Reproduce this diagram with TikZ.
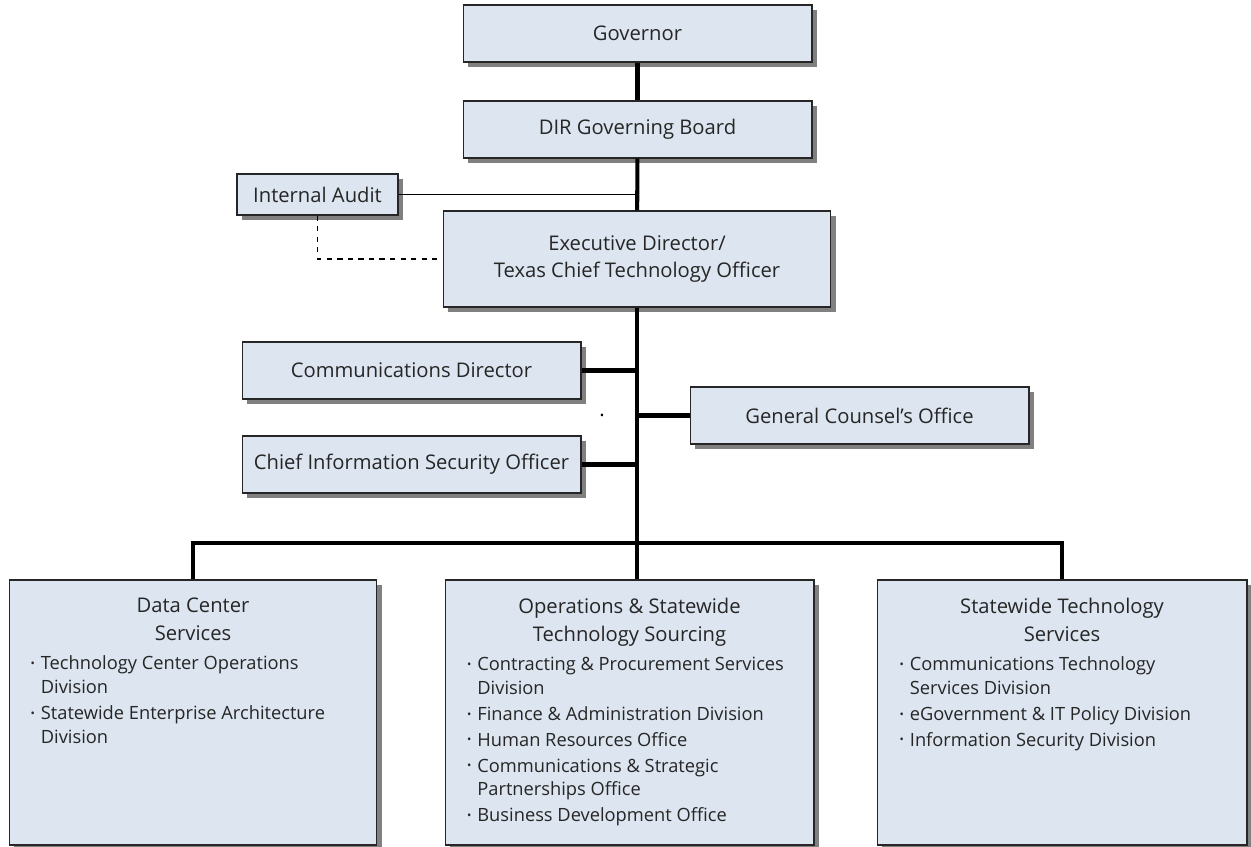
\documentclass[tikz,border=0pt]{standalone}
\usepackage{fontspec}
\setmainfont{Open Sans}
\usetikzlibrary{shadows}
\definecolor{boxblue}{HTML}{DCE5F0}
\definecolor{shadowgray}{HTML}{808080}
\newcommand{\bitem}[1]{\par\hangindent=5.9pt\hangafter=1%
  \makebox[5.9pt][l]{\raisebox{1.3pt}{\fontsize{6.5}{6.5}\selectfont\textbullet}}#1}
\newcommand{\unitlist}[2]{\parbox[c][5.0cm][t]{6.5cm}{\vspace*{6pt}%
  {\centering\fontsize{11.5}{15.9}\selectfont #1\par}\vspace{2pt}%
  \raggedright\fontsize{10.4}{13.6}\selectfont\parskip=1.1pt #2}}

\begin{document}
\begin{tikzpicture}[x=0.02cm, y=-0.02cm,
    box/.style={draw=black!85, line width=0.6pt, fill=boxblue, inner sep=0pt,
      text=black!85, font=\fontsize{11.5}{15.5}\selectfont, align=center,
      general shadow={fill=shadowgray, shadow xshift=2.8pt, shadow yshift=-2.8pt}},
    topbox/.style={box, minimum width=6.98cm, minimum height=1.14cm},
    sidebox/.style={box, minimum width=6.78cm, minimum height=1.14cm},
    unitbox/.style={box, minimum height=5.3cm},
    trunk/.style={line width=2.3pt},
    side/.style={line width=0.8pt},
    audit/.style={dashed, line width=0.7pt}]
    \useasboundingbox (0,0) rectangle (1251,847);
    % chain of command
    \node [topbox] (gov) at (637.5,33.5) {Governor};
    \node [topbox] (dir) at (637.5,129.5) {DIR Governing Board};
    \node [box, minimum width=3.22cm, minimum height=0.82cm] (ia) at (317.5,194.5) {Internal Audit};
    \node [box, minimum width=7.76cm, minimum height=1.92cm] (exec) at (637,259) {Executive Director/\\Texas Chief Technology Officer};
    % staff offices
    \node [sidebox] (comm) at (411.5,370.5) {Communications Director};
    \node [sidebox] (gc) at (859.5,415.5) {General Counsel’s Office};
    \node [sidebox] (ciso) at (411.5,464.5) {Chief Information Security Officer};
    \node [inner sep=0pt, font=\fontsize{11.5}{14}\selectfont] (speck) at (602,415) {.};
    % divisions
    \node [unitbox, minimum width=7.36cm] (dcs) at (193,712.5) {\unitlist{Data Center\\Services}{%
      \bitem{Technology Center Operations\newline Division}%
      \bitem{Statewide Enterprise Architecture\newline Division}}};
    \node [unitbox, minimum width=7.38cm] (osts) at (629.5,712.5) {\unitlist{Operations \& Statewide\\Technology Sourcing}{%
      \bitem{Contracting \& Procurement Services\newline Division}%
      \bitem{Finance \& Administration Division}%
      \bitem{Human Resources Office}%
      \bitem{Communications \& Strategic\newline Partnerships Office}%
      \bitem{Business Development Office}}};
    \node [unitbox, minimum width=7.40cm] (sts) at (1062,712.5) {\unitlist{Statewide Technology\\Services}{%
      \bitem{Communications Technology\newline Services Division}%
      \bitem{eGovernment \& IT Policy Division}%
      \bitem{Information Security Division}}};
    % connectors
    \coordinate (bus) at (637,543);
    \draw [trunk] (gov) -- (dir);
    \draw [trunk] (dir) -- (exec);
    \draw [side] (ia.east) -- (ia.east -| dir.south);
    \draw [audit] (ia.south) |- (exec.west);
    \draw [trunk] (exec) -- (bus);
    \draw [trunk] (comm.east) -- (comm.east -| bus);
    \draw [trunk] (gc.west) -- (gc.west -| bus);
    \draw [trunk] (ciso.east) -- (ciso.east -| bus);
    \draw [trunk, line cap=rect] (dcs.north |- bus) -- (sts.north |- bus);
    \draw [trunk] (dcs.north |- bus) -- (dcs.north);
    \draw [trunk] (bus) -- (bus |- osts.north);
    \draw [trunk] (sts.north |- bus) -- (sts.north);
  \end{tikzpicture}
\end{document}
